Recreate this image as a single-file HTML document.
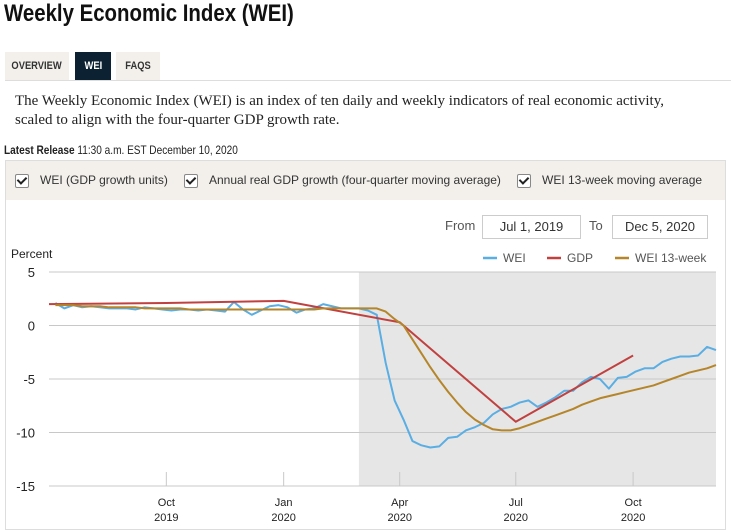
<!DOCTYPE html>
<html><head><meta charset="utf-8">
<style>
body{margin:0;width:731px;height:526px;overflow:hidden;background:#fff;font-family:"Liberation Sans",sans-serif;position:relative;color:#222}
.abs{position:absolute}
.narrow{font-family:"Liberation Sans Narrow","Liberation Sans",sans-serif}
.tab{position:absolute;top:52px;height:28px;line-height:28px;font-size:11px;font-weight:bold;text-align:center;background:#f3f0ec;color:#333}
.tab span{display:inline-block;transform:scaleX(0.85)}
.cb{position:absolute;top:174px;width:12px;height:12px;border:1px solid #888;border-radius:2px;background:#fff}
.cb::after{content:"";position:absolute;left:3px;top:0px;width:4px;height:7px;border:solid #222;border-width:0 2px 2px 0;transform:rotate(45deg)}
.cbl{position:absolute;top:173px;font-size:12px;color:#333}
.inp{position:absolute;top:215px;height:22px;border:1px solid #ccc;font-size:13px;line-height:22px;text-align:center;color:#333}
</style></head><body>
<div class="abs narrow" style="left:4px;top:0px;font-size:24px;font-weight:bold;color:#111;transform:scaleX(0.85);transform-origin:left top;white-space:nowrap">Weekly Economic Index (WEI)</div>
<div class="tab narrow" style="left:5px;width:64px"><span>OVERVIEW</span></div>
<div class="tab narrow" style="left:75px;width:36px;background:#0c2233;color:#fff"><span>WEI</span></div>
<div class="tab narrow" style="left:116px;width:44px"><span>FAQS</span></div>
<div class="abs" style="left:5px;top:80px;width:726px;height:1px;background:#ddd"></div>
<div class="abs" style="left:15px;top:92px;font-family:'Liberation Serif',serif;font-size:15px;line-height:19px;color:#222">The Weekly Economic Index (WEI) is an index of ten daily and weekly indicators of real economic activity,<br>scaled to align with the four-quarter GDP growth rate.</div>
<div class="abs narrow" style="left:4px;top:143px;font-size:12px;color:#222;transform:scaleX(0.84);transform-origin:left top;white-space:nowrap"><b>Latest Release</b> 11:30 a.m. EST December 10, 2020</div>
<div class="abs" style="left:5px;top:160px;width:721px;height:370px;border:1px solid #ddd;box-sizing:border-box"></div>
<div class="abs" style="left:6px;top:161px;width:719px;height:39px;background:#f3f0ec"></div>
<div class="cb" style="left:15px"></div>
<div class="cbl" style="left:40px">WEI (GDP growth units)</div>
<div class="cb" style="left:184px"></div>
<div class="cbl" style="left:209px">Annual real GDP growth (four-quarter moving average)</div>
<div class="cb" style="left:517px"></div>
<div class="cbl" style="left:542px">WEI 13-week moving average</div>
<div class="abs" style="left:445px;top:218px;font-size:13px;color:#555">From</div>
<div class="inp" style="left:482px;width:97px">Jul 1, 2019</div>
<div class="abs" style="left:589px;top:218px;font-size:13px;color:#555">To</div>
<div class="inp" style="left:612px;width:94px">Dec 5, 2020</div>
<svg class="abs" style="left:0;top:0" width="731" height="526" id="chart"></svg>
<script>
const yTicks=[5,0,-5,-10,-15];
const xTickDays=[92,184,275,366,458];
const xTickMonths=["Oct","Jan","Apr","Jul","Oct"];
const xTickYears=["2019","2020","2020","2020","2020"];
const weiValues=[2.1,1.6,1.9,1.7,1.8,1.7,1.6,1.6,1.6,1.5,1.7,1.6,1.5,1.4,1.5,1.5,1.4,1.5,1.4,1.3,2.2,1.5,1.0,1.4,1.8,1.9,1.7,1.2,1.5,1.6,2.0,1.8,1.6,1.6,1.6,1.4,1.0,
-3.5,-7.0,-8.8,-10.8,-11.2,-11.4,-11.3,-10.5,-10.4,-9.8,-9.5,-9.1,-8.3,-7.8,-7.6,-7.2,-7.0,-7.6,-7.2,-6.7,-6.1,-6.1,-5.3,-4.8,-5.0,-5.9,-4.9,-4.8,-4.3,-4.0,-4.0,-3.4,-3.1,-2.9,-2.9,-2.8,-2.0,-2.3];
const wei13Values=[1.9,1.9,1.9,1.8,1.8,1.8,1.7,1.7,1.7,1.7,1.6,1.6,1.6,1.6,1.6,1.5,1.5,1.5,1.5,1.5,1.5,1.5,1.5,1.5,1.5,1.5,1.5,1.5,1.5,1.5,1.6,1.6,1.6,1.6,1.6,1.6,1.6,
1.3,0.6,0.0,-1.3,-2.6,-3.9,-5.1,-6.2,-7.2,-8.1,-8.8,-9.3,-9.7,-9.8,-9.8,-9.6,-9.3,-9.0,-8.7,-8.4,-8.1,-7.8,-7.4,-7.1,-6.8,-6.6,-6.4,-6.2,-6.0,-5.8,-5.6,-5.3,-5.0,-4.7,-4.4,-4.2,-4.0,-3.7];
const gdpDays=[0,92,184,275,366,458];
const gdpValues=[2.0,2.1,2.3,0.3,-9.0,-2.8];
const recessionStartDay=243;
const totalDays=523;
const X0=49,X1=716,Y5=272,Ym15=486;
const x=d=>X0+d*(X1-X0)/totalDays;
const y=v=>Y5+(5-v)*(Ym15-Y5)/20;
const weekDay=i=>5+7*i;
const svg=document.getElementById('chart');
const NS='http://www.w3.org/2000/svg';
function mk(t,a){const e=document.createElementNS(NS,t);for(const k in a)e.setAttribute(k,a[k]);svg.appendChild(e);return e;}
let r=mk('rect',{x:x(recessionStartDay),y:y(5),width:X1-x(recessionStartDay),height:y(-15)-y(5),fill:'#e6e6e6'});


yTicks.forEach(v=>{
 let l=mk('line',{x1:X0,x2:X1,y1:y(v),y2:y(v),stroke:'#c8c8c8','stroke-width':1});
 
 
 let t=mk('text',{x:35,y:y(v)+5,'text-anchor':'end','font-size':13,fill:'#222','font-family':'Liberation Sans Narrow, Liberation Sans, sans-serif'});
 t.textContent=v;
 
 
});
xTickDays.forEach((d,i)=>{
 let l=mk('line',{x1:x(d),x2:x(d),y1:y(-15)-14,y2:y(-15),stroke:'#c8c8c8'});
 
 
 let t=mk('text',{x:x(d),y:506,'text-anchor':'middle','font-size':11,fill:'#222','font-family':'Liberation Sans Narrow, Liberation Sans, sans-serif'});
 t.textContent=xTickMonths[i];
 
 
 let t2=mk('text',{x:x(d),y:521,'text-anchor':'middle','font-size':11,fill:'#222','font-family':'Liberation Sans Narrow, Liberation Sans, sans-serif'});
 t2.textContent=xTickYears[i];
 
 
});
let pl=mk('text',{x:11,y:258,'font-size':12,fill:'#222','font-family':'Liberation Sans Narrow, Liberation Sans, sans-serif'});
pl.textContent='Percent';


function line(pts,color,name){
 let p=mk('polyline',{points:pts.map(q=>q.join(',')).join(' '),fill:'none',stroke:color,'stroke-width':2,'stroke-linejoin':'round'});
 
 
}
line(weiValues.map((v,i)=>[x(weekDay(i)),y(v)]),'#5aaee3','wei-line');
line(gdpValues.map((v,i)=>[x(gdpDays[i]),y(v)]),'#c0413f','gdp-line');
line(wei13Values.map((v,i)=>[x(weekDay(i)),y(v)]),'#b5852a','wei-13-week-line');
const legend=[['WEI','#5aaee3',483],['GDP','#c0413f',547],['WEI 13-week','#b5852a',615]];
legend.forEach(([lab,c,lx])=>{
 let g=document.createElementNS(NS,'g');svg.appendChild(g);
 
 
 let l=document.createElementNS(NS,'line');
 [['x1',lx],['x2',lx+14],['y1',258],['y2',258],['stroke',c],['stroke-width',2.5]].forEach(([k,v])=>l.setAttribute(k,v));
 g.appendChild(l);
 let t=document.createElementNS(NS,'text');
 [['x',lx+20],['y',262],['font-size',12],['fill','#555']].forEach(([k,v])=>t.setAttribute(k,v));
 t.setAttribute('font-family','Liberation Sans, sans-serif');
 t.textContent=lab;g.appendChild(t);
});
</script>
</body></html>
